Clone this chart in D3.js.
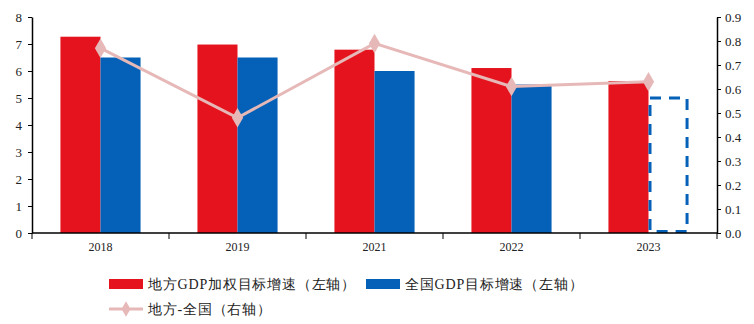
<!DOCTYPE html>
<html>
<head>
<meta charset="utf-8">
<script src="https://cdn.jsdelivr.net/npm/d3@7"></script>
<style>
body{margin:0;background:#fff;}
text{font-family:"Liberation Serif","Times New Roman",serif;}
</style>
</head>
<body>
<div id="chart"></div>
<script>
// yearly growth targets, left axis in %, right axis is the gap
var years = ['2018','2019','2021','2022','2023'];
var localTarget = [7.27, 6.98, 6.79, 6.11, 5.63];
var nationTarget = [6.5, 6.5, 6.0, 5.5, 5.0];
var gap = [0.77, 0.48, 0.79, 0.61, 0.63];
var leftTicks = [0,1,2,3,4,5,6,7,8];
var rightTicks = [0,0.1,0.2,0.3,0.4,0.5,0.6,0.7,0.8,0.9];
var dashedYear = '2023'; // nation target shown as outline only

var W = 754, H = 324;
var m = {left:32, right:37, top:17, bottom:91};
var red = '#e5131d', blue = '#0461b7', pink = '#e6b9b8';

var svg = d3.select('#chart').append('svg')
    .attr('width', W).attr('height', H);
var g = svg.append('g').attr('transform','translate('+m.left+','+m.top+')');
var iw = W-m.left-m.right, ih = H-m.top-m.bottom;

var x = d3.scaleBand().domain(years).range([0,iw]).paddingInner(0).paddingOuter(0);
var xs = d3.scaleBand().domain([0,1]).range([0,x.bandwidth()]).paddingInner(0).paddingOuter(0.71);
var yL = d3.scaleLinear().domain([0,8]).range([ih,0]);
var yR = d3.scaleLinear().domain([0,0.9]).range([ih,0]);

// bars
var grp = g.selectAll('.yr').data(years).enter().append('g')
    .attr('transform', function(d){ return 'translate('+x(d)+',0)'; });
grp.append('rect')
    .attr('x', xs(0)).attr('width', xs.bandwidth())
    .attr('y', function(d,i){ return yL(localTarget[i]); })
    .attr('height', function(d,i){ return ih-yL(localTarget[i]); })
    .style('fill', red);
grp.append('rect')
    .attr('x', function(d){ return d==dashedYear ? xs(1)+1.5 : xs(1); })
    .attr('width', function(d){ return d==dashedYear ? xs.bandwidth()-3 : xs.bandwidth(); })
    .attr('y', function(d,i){ return yL(nationTarget[i]); })
    .attr('height', function(d,i){ return ih-yL(nationTarget[i]) - (d==dashedYear?1.5:0); })
    .style('fill', function(d){ return d==dashedYear ? 'none' : blue; })
    .style('stroke', function(d){ return d==dashedYear ? blue : 'none'; })
    .style('stroke-width', 3)
    .style('stroke-dasharray', '11,8');

// gap line on the right axis
var cx = function(d){ return x(d)+x.bandwidth()/2; };
g.append('path')
    .datum(years)
    .attr('d', d3.line().x(cx).y(function(d,i){ return yR(gap[i]); }))
    .style('fill','none').style('stroke',pink).style('stroke-width',3);
g.selectAll('.mk').data(years).enter().append('path')
    .attr('d', d3.symbol().type(d3.symbolDiamond).size(110))
    .attr('transform', function(d,i){ return 'translate('+cx(d)+','+yR(gap[i])+')'; })
    .style('fill', pink);

// axes
var ax = g.append('g').attr('transform','translate(0,'+ih+')')
    .call(d3.axisBottom(x).tickSize(0).tickPadding(9));
ax.selectAll('.tick').append('line')
    .attr('x1', -x.bandwidth()/2).attr('x2', -x.bandwidth()/2).attr('y2',6)
    .attr('stroke','#000');
ax.append('line').attr('x1', iw).attr('x2', iw).attr('y2',6).attr('stroke','#000');
var aL = g.append('g').call(d3.axisLeft(yL).tickValues(leftTicks).tickSize(4).tickPadding(6).tickSizeOuter(0));
var aR = g.append('g').attr('transform','translate('+iw+',0)')
    .call(d3.axisRight(yR).tickValues(rightTicks).tickFormat(d3.format('.1f')).tickSize(4).tickPadding(4).tickSizeOuter(0));
[ax,aL,aR].forEach(function(a){
    a.select('.domain').attr('stroke','#000').attr('stroke-width',1.5);
    a.selectAll('text').attr('font-family','"Liberation Serif",serif').attr('font-size','13px').attr('fill','#222');
});
ax.selectAll('text').attr('font-size','12px');
ax.select('.domain').attr('d','M0,0H'+iw);

// legend
var lg = svg.append('g');
var items = [
    {t:'地方GDP加权目标增速（左轴）', c:red, kind:'bar', x:109, y:284},
    {t:'全国GDP目标增速（左轴）', c:blue, kind:'bar', x:366, y:284},
    {t:'地方-全国（右轴）', c:pink, kind:'line', x:109, y:309}
];
items.forEach(function(it){
    if(it.kind=='bar') {
        lg.append('rect').attr('x',it.x).attr('y',it.y-5).attr('width',34).attr('height',10).style('fill',it.c);
    } else {
        lg.append('line').attr('x1',it.x).attr('x2',it.x+34).attr('y1',it.y).attr('y2',it.y)
            .style('stroke',it.c).style('stroke-width',3);
        lg.append('path').attr('d',d3.symbol().type(d3.symbolDiamond).size(70))
            .attr('transform','translate('+(it.x+17)+','+it.y+')').style('fill',it.c);
    }
    lg.append('text').attr('x',it.x+39).attr('y',it.y+5)
        .attr('font-family','"Noto Sans CJK SC",sans-serif')
        .style('letter-spacing','0.8px')
        .attr('font-size','14px').attr('fill','#222').text(it.t);
});
</script>
</body>
</html>
